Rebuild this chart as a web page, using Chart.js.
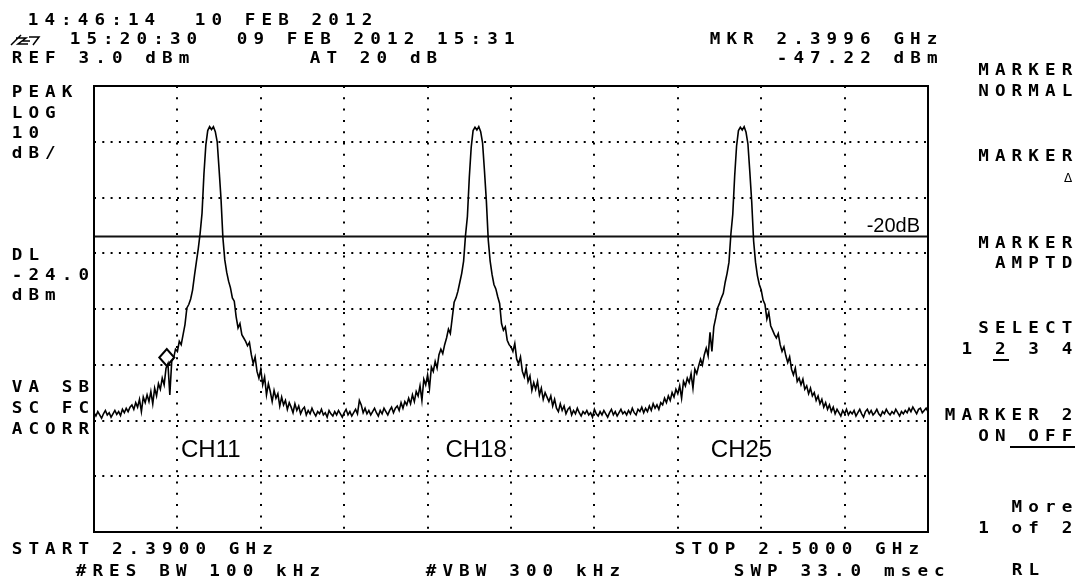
<!DOCTYPE html>
<html>
<head>
<meta charset="utf-8">
<script src="https://cdn.jsdelivr.net/npm/chart.js"></script>
<style>
  html, body { margin: 0; padding: 0; background: #fff; }
  canvas { display: block; }
</style>
</head>
<body>
<canvas id="sa" width="1084" height="582"></canvas>
<script>
// sweep settings (MHz)
const startMHz = 2390;
const stopMHz = 2500;
const stepMHz = 0.25;

// trace, one value per 0.25 MHz (dBm), 5 MHz per row
const traceDbm = [
  -55.6, -56.2, -55.4, -56.0, -56.6, -55.8, -55.2, -56.0, -55.6, -56.4, -55.8, -55.2, -55.9, -55.4, -56.1, -55.0, -55.6, -54.8, -55.4, -54.6,
  -54.2, -55.0, -53.8, -54.6, -53.2, -55.4, -52.8, -53.8, -52.4, -53.6, -51.8, -54.0, -51.2, -52.6, -50.4, -51.4, -49.4, -50.6, -47.6, -46.8,
  -52.4, -46.4, -45.8, -44.2, -44.6, -42.8, -43.4, -41.6, -39.8, -36.8, -36.2, -35.2, -33.6, -31.0, -28.6, -26.2, -23.4, -19.8, -12.8, -7.6,
  -5.0, -4.3, -4.8, -4.3, -5.2, -7.0, -12.0, -17.2, -24.2, -28.2, -30.4, -32.0, -33.2, -35.0, -35.6, -38.4, -40.4, -39.6, -41.6, -42.2,
  -42.8, -43.6, -43.0, -45.2, -46.8, -45.6, -48.2, -49.4, -47.8, -50.6, -49.2, -52.4, -50.4, -51.8, -53.6, -51.6, -53.0, -52.2, -54.4, -52.8,
  -54.2, -53.4, -55.0, -53.8, -54.6, -55.6, -54.0, -55.2, -54.4, -55.8, -55.0, -54.6, -56.0, -55.2, -55.8, -54.8, -55.6, -56.2, -55.4, -55.8,
  -55.0, -56.0, -55.6, -56.4, -55.2, -55.8, -56.2, -55.4, -56.0, -55.2, -55.8, -56.4, -55.6, -55.0, -56.0, -55.4, -56.2, -55.6, -55.0, -55.8,
  -53.4, -54.2, -55.6, -54.8, -55.8, -55.2, -56.0, -55.4, -54.8, -55.6, -56.2, -55.2, -55.8, -54.8, -55.4, -56.0, -55.2, -54.6, -55.6, -54.8,
  -54.4, -55.2, -53.8, -54.8, -53.6, -54.2, -53.0, -54.0, -52.4, -53.6, -51.8, -52.6, -50.8, -53.4, -49.6, -50.6, -48.8, -51.2, -47.4, -48.2,
  -46.4, -47.6, -45.2, -44.2, -45.0, -43.4, -42.2, -40.6, -41.4, -38.6, -35.8, -35.0, -33.8, -32.2, -30.6, -28.4, -23.8, -20.4, -13.4, -8.0,
  -5.0, -4.4, -4.9, -4.3, -5.2, -7.2, -12.2, -17.6, -24.6, -28.4, -30.8, -32.6, -33.4, -34.8, -36.0, -39.6, -40.8, -40.2, -42.6, -43.4,
  -43.8, -44.6, -43.2, -46.0, -46.8, -45.6, -48.2, -49.2, -47.6, -50.0, -49.0, -51.6, -50.2, -51.4, -50.0, -52.4, -51.2, -53.2, -52.0, -52.8,
  -53.6, -52.6, -54.4, -53.2, -54.8, -55.4, -54.0, -55.2, -54.4, -55.8, -55.0, -54.6, -56.0, -55.2, -55.8, -54.8, -55.6, -56.2, -55.4, -55.8,
  -55.2, -56.0, -55.6, -56.4, -55.0, -55.8, -56.2, -55.4, -56.0, -55.2, -55.8, -56.4, -55.6, -55.0, -56.0, -55.4, -56.2, -55.6, -55.0, -55.8,
  -55.4, -56.0, -55.2, -55.8, -54.8, -55.6, -56.0, -55.0, -55.4, -54.6, -55.6, -54.8, -55.4, -54.4, -55.2, -54.0, -54.8, -54.2, -55.0, -53.8,
  -54.2, -53.0, -53.8, -52.6, -53.4, -52.0, -52.8, -51.4, -52.2, -50.8, -53.0, -50.0, -50.8, -49.4, -50.2, -48.6, -51.2, -47.8, -48.6, -47.2,
  -46.0, -47.0, -45.2, -44.0, -45.4, -41.2, -44.6, -40.2, -38.6, -36.8, -36.0, -35.0, -34.2, -32.2, -30.6, -28.6, -23.6, -20.0, -13.2, -7.8,
  -5.0, -4.4, -4.9, -4.3, -5.3, -7.4, -12.4, -17.8, -24.8, -28.6, -31.0, -32.6, -33.6, -35.4, -36.2, -38.8, -37.6, -40.0, -40.8, -41.6,
  -42.2, -41.4, -43.4, -44.6, -43.8, -45.4, -46.6, -45.6, -47.8, -48.8, -47.6, -50.0, -49.4, -50.6, -49.6, -51.4, -50.8, -52.2, -51.2, -52.6,
  -52.0, -53.4, -52.6, -54.0, -53.2, -54.6, -53.8, -55.0, -54.2, -55.4, -54.6, -55.8, -55.0, -55.6, -56.2, -55.2, -55.8, -55.0, -56.0, -55.4,
  -55.8, -55.2, -56.2, -55.6, -55.0, -55.8, -56.4, -55.4, -55.0, -55.8, -55.2, -56.0, -55.6, -55.0, -55.8, -56.2, -55.4, -55.8, -55.0, -55.6,
  -56.0, -55.4, -55.8, -55.0, -55.6, -56.2, -55.4, -55.8, -55.2, -55.6, -54.8, -55.4, -54.6, -55.2, -55.8, -55.0, -54.8, -55.6, -55.2, -54.8, -55.4
];

// graticule: 10 divisions across, 8 down (REF 3 dBm, 10 dB/div)
const freqTicks = [2390, 2401, 2412, 2423, 2434, 2445, 2456, 2467, 2478, 2489, 2500];
const dbTicks = [3, -7, -17, -27, -37, -47, -57, -67, -77];

const displayLine = -24;          // DL
const markerMHz = 2399.6;
const markerDbm = -47.22;
const channelNames = ["CH11", "CH18", "CH25"];
const channelMHz = [2405.4, 2440.4, 2475.4];

const tracePoints = traceDbm.map((v, i) => ({ x: startMHz + i * stepMHz, y: v }));

const MONO = 'bold 16px "DejaVu Sans Mono"';
const PITCH = 16.7;

// instrument text sits on a fixed character grid, glyphs a bit wider than the font
function mono(ctx, s, x, y) {
  for (let i = 0; i < s.length; i++) {
    ctx.save();
    ctx.translate(x + i * PITCH + 5, y);
    ctx.scale(1.1, 1);
    ctx.fillText(s[i], 0, 0);
    ctx.restore();
  }
}
function monoRight(ctx, s, right, y) {
  mono(ctx, s, right - 10 - (s.length - 1) * PITCH, y);
}

const screenText = {
  id: "screenText",
  afterDatasetsDraw(chart) {
    const ctx = chart.ctx;
    const { left, top, right, bottom } = chart.chartArea;
    const xs = chart.scales.x, ys = chart.scales.y;
    ctx.save();
    ctx.fillStyle = "#000";

    // frame
    ctx.strokeStyle = "#000";
    ctx.lineWidth = 2;
    ctx.strokeRect(left, top, right - left, bottom - top);

    // marker diamond sits on top of the trace point
    const mx = xs.getPixelForValue(markerMHz);
    const my = ys.getPixelForValue(markerDbm);
    ctx.beginPath();
    ctx.moveTo(mx, my);
    ctx.lineTo(mx + 7.5, my - 8.5);
    ctx.lineTo(mx, my - 17);
    ctx.lineTo(mx - 7.5, my - 8.5);
    ctx.closePath();
    ctx.lineWidth = 2;
    ctx.stroke();

    // annotations
    ctx.font = '20px "Liberation Sans"';
    ctx.textAlign = "right";
    ctx.textBaseline = "alphabetic";
    ctx.fillText("-20dB", right - 8, ys.getPixelForValue(displayLine) - 5);
    ctx.font = '24px "Liberation Sans"';
    ctx.textAlign = "center";
    channelNames.forEach((n, i) => {
      ctx.fillText(n, xs.getPixelForValue(channelMHz[i]), 457);
    });

    // instrument annotation text
    ctx.font = MONO;
    ctx.textAlign = "center";
    mono(ctx, "14:46:14  10 FEB 2012", 28, 25);
    mono(ctx, "15:20:30  09 FEB 2012 15:31", 70, 44);
    mono(ctx, "MKR 2.3996 GHz", 710, 44);
    mono(ctx, "REF 3.0 dBm", 12, 63);
    mono(ctx, "AT 20 dB", 310, 63);
    mono(ctx, "-47.22 dBm", 777, 63);

    mono(ctx, "PEAK", 12, 97);
    mono(ctx, "LOG", 12, 118);
    mono(ctx, "10", 12, 138);
    mono(ctx, "dB/", 12, 158);
    mono(ctx, "DL", 12, 260);
    mono(ctx, "-24.0", 12, 280);
    mono(ctx, "dBm", 12, 300);
    mono(ctx, "VA SB", 12, 392);
    mono(ctx, "SC FC", 12, 413);
    mono(ctx, "ACORR", 12, 434);

    mono(ctx, "START 2.3900 GHz", 12, 554);
    mono(ctx, "STOP 2.5000 GHz", 675, 554);
    mono(ctx, "#RES BW 100 kHz", 76, 576);
    mono(ctx, "#VBW 300 kHz", 426, 576);
    mono(ctx, "SWP 33.0 msec", 734, 576);

    const R = 1072;
    monoRight(ctx, "MARKER", R, 75);
    monoRight(ctx, "NORMAL", R, 96);
    monoRight(ctx, "MARKER", R, 161);
    monoRight(ctx, "MARKER", R, 248);
    monoRight(ctx, "AMPTD", R, 268);
    monoRight(ctx, "SELECT", R, 333);
    monoRight(ctx, "1 2 3 4", R, 354);
    monoRight(ctx, "MARKER 2", R, 420);
    monoRight(ctx, "ON OFF", R, 441);
    monoRight(ctx, "More", R, 512);
    monoRight(ctx, "1 of 2", R, 533);
    mono(ctx, "RL", 1012, 575);
    ctx.font = '12px "DejaVu Sans"';
    ctx.fillText("\u0394", R - 4, 182);

    // underlines on active softkey choices
    ctx.lineWidth = 2;
    ctx.beginPath();
    ctx.moveTo(993, 360); ctx.lineTo(1009, 360);
    ctx.moveTo(1010, 447); ctx.lineTo(1075, 447);
    ctx.stroke();

    // stored-trace symbol at start of line 2
    ctx.lineWidth = 1.5;
    ctx.beginPath();
    ctx.moveTo(11, 45); ctx.lineTo(21, 35);
    ctx.moveTo(16, 38); ctx.lineTo(26, 38); ctx.lineTo(18, 44); ctx.lineTo(28, 44);
    ctx.moveTo(29, 37); ctx.lineTo(39, 37); ctx.lineTo(33, 45);
    ctx.moveTo(22, 41); ctx.lineTo(30, 41);
    ctx.stroke();

    ctx.restore();
  }
};

new Chart(document.getElementById("sa"), {
  type: "line",
  data: {
    datasets: [
      {
        data: tracePoints,
        borderColor: "#000",
        borderWidth: 1.6,
        pointRadius: 0,
        tension: 0
      },
      {
        data: [{ x: startMHz, y: displayLine }, { x: stopMHz, y: displayLine }],
        borderColor: "#111",
        borderWidth: 2,
        pointRadius: 0
      }
    ]
  },
  options: {
    responsive: false,
    animation: false,
    devicePixelRatio: 1,
    layout: { padding: { left: 94, right: 156, top: 86, bottom: 50 } },
    plugins: { legend: { display: false }, tooltip: { enabled: false } },
    scales: {
      x: {
        type: "linear",
        min: startMHz,
        max: stopMHz,
        afterBuildTicks: (s) => { s.ticks = freqTicks.map(v => ({ value: v })); },
        ticks: { display: false },
        grid: { color: "#000", lineWidth: 2, drawTicks: false },
        border: { display: false, dash: [2, 9.3] }
      },
      y: {
        min: -77,
        max: 3,
        afterBuildTicks: (s) => { s.ticks = dbTicks.map(v => ({ value: v })); },
        ticks: { display: false },
        grid: { color: "#000", lineWidth: 2, drawTicks: false },
        border: { display: false, dash: [2, 6.3] }
      }
    }
  },
  plugins: [screenText]
});
</script>
</body>
</html>
